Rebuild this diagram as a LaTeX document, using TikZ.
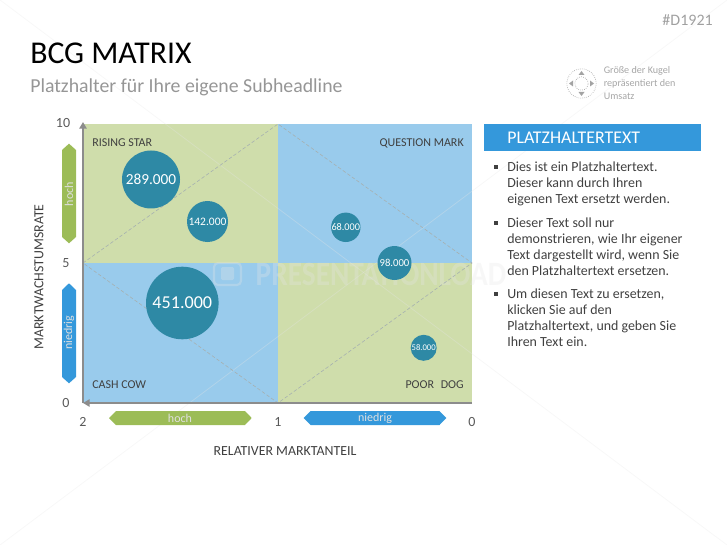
\documentclass[tikz,border=0pt]{standalone}
\usepackage{fontspec}
\setmainfont{Carlito}
\usetikzlibrary{arrows.meta}
\definecolor{qgreen}{HTML}{CFDDAB}
\definecolor{qblue}{HTML}{99CBEC}
\definecolor{bubblec}{HTML}{2E89A5}
\definecolor{agreen}{HTML}{9CBC57}
\definecolor{ablue}{HTML}{3498DB}
\definecolor{axisc}{HTML}{8C8C8C}
\definecolor{diagc}{HTML}{A6B0B0}
\definecolor{txtd}{HTML}{404040}
\definecolor{txtm}{HTML}{595959}
\definecolor{txtl}{HTML}{969696}
\definecolor{faint}{HTML}{E6E6E6}
\newcommand{\fsz}[1]{\fontsize{#1}{#1}\selectfont}
\tikzset{
  bubble/.style={circle,fill=bubblec,inner sep=0pt,text=white,minimum size=#1*0.75pt},
  tick/.style={text=txtm,inner sep=0pt,font=\fsz{10.5}},
  quadlabel/.style={text=txtd,inner sep=0pt,font=\fsz{9}},
  axislabel/.style={text=txtd,inner sep=0pt,font=\fsz{10.4}},
  arrowlabel/.style={text=white!88!black,inner sep=0pt,font=\fsz{9}},
  bodytext/.style={text=txtd,inner sep=0pt,anchor=north west,align=left,font=\fontsize{10.45}{12}\selectfont},
  bulletbox/.style={fill=txtd,inner sep=0pt,minimum size=3pt},
  faintline/.style={draw=faint,line width=0.6pt,opacity=.3},
  diag/.style={draw=diagc,line width=0.45pt,dash pattern=on 2.6pt off 1.6pt},
  axisline/.style={draw=axisc,line width=1.2pt,-{Triangle[length=5pt,width=5.5pt]}}
}
\begin{document}
\begin{tikzpicture}[x=0.75pt,y=-0.75pt]
\useasboundingbox (0,0) rectangle (727,545);
% quadrants
\fill[qgreen] (83,124) rectangle (278,263);
\fill[qblue] (278,124) rectangle (472,263);
\fill[qblue] (83,263) rectangle (278,403);
\fill[qgreen] (278,263) rectangle (472,403);
% watermark
\coordinate (c1) at (0,0);
\coordinate (c2) at (727,545);
\coordinate (c3) at (727,0);
\coordinate (c4) at (0,545);
\draw[faintline] (c1) -- (c2);
\draw[faintline] (c3) -- (c4);
\node[inner sep=0pt,text=faint,opacity=.3,xscale=.86,font=\bfseries\fsz{25.6}] (wm) at (381,274) {PRESENTATIONLOAD};
\draw[faint,opacity=.3,line width=1.6pt,rounded corners=3pt] (214,263) rectangle (241,285);
\fill[faint,opacity=.3,rounded corners=1pt] (221,267) rectangle (234,280);
% diagonals
\coordinate (dl) at (83,263);
\coordinate (dt) at (278,124);
\coordinate (dr) at (472,263);
\coordinate (db) at (278,403);
\draw[diag] (dl) -- (dt) -- (dr) -- (db) -- cycle;
% axes
\coordinate (origin) at (83,403);
\coordinate (ytop) at (83,122);
\coordinate (xend) at (472,403);
\draw[axisline] (origin) -- (ytop);
\draw[axisline] (xend) -- (origin);
% ticks
\node[tick] (y10) at (63,123) {10};
\node[tick] (y5) at (66,263) {5};
\node[tick] (y0) at (66,403) {0};
\node[tick] (x2) at (83,422) {2};
\node[tick] (x1) at (278,422) {1};
\node[tick] (x0) at (472,422) {0};
% quadrant labels
\node[quadlabel,anchor=west] (rs) at (92,143) {RISING STAR};
\node[quadlabel,anchor=east] (qm) at (464,143) {QUESTION MARK};
\node[quadlabel,anchor=west] (cc) at (92,385) {CASH COW};
\node[quadlabel,anchor=east] (pd) at (464,385) {POOR\hspace{3pt} DOG};
% axis titles
\node[axislabel,rotate=90] (ytitle) at (39,277) {MARKTWACHSTUMSRATE};
\node[axislabel] (xtitle) at (285,451) {RELATIVER MARKTANTEIL};
% arrows
\fill[agreen] (69,143.7) -- (76,150) -- (76,237) -- (69,243.3) -- (62,237) -- (62,150) -- cycle;
\node[arrowlabel,rotate=90] (ahoch) at (69,194) {hoch};
\fill[ablue] (69,283.3) -- (76,290) -- (76,377) -- (69,383.3) -- (62,377) -- (62,290) -- cycle;
\node[arrowlabel,rotate=90] (aniedrig) at (69,333) {niedrig};
\fill[agreen] (109,418) -- (116,411) -- (245,411) -- (251.7,418) -- (245,425) -- (116,425) -- cycle;
\node[arrowlabel] (bhoch) at (180,418) {hoch};
\fill[ablue] (303.7,418) -- (310.5,411) -- (439.5,411) -- (446.3,418) -- (439.5,425) -- (310.5,425) -- cycle;
\node[arrowlabel] (bniedrig) at (375,418) {niedrig};
% bubbles
\node[bubble=58,font=\fsz{11.5}] (b289) at (151,179.5) {289.000};
\node[bubble=41,font=\fsz{8.6}] (b142) at (207.5,221.5) {142.000};
\node[bubble=72.6,font=\fsz{13.6}] (b451) at (182.3,303) {451.000};
\node[bubble=28.6,font=\fsz{7.7}] (b68) at (345.8,227.3) {68.000};
\node[bubble=34,font=\fsz{8}] (b98) at (394.5,263) {98.000};
\node[bubble=26,font=\fsz{6.5}] (b58) at (423.7,347.8) {58.000};
% title block
\node[inner sep=0pt,anchor=west,text=black,font=\fsz{23.8}] (title) at (30,53) {BCG MATRIX};
\node[inner sep=0pt,anchor=west,text=txtl,font=\fsz{14.85}] (sub) at (30,87) {Platzhalter für Ihre eigene Subheadline};
\node[inner sep=0pt,anchor=east,text=txtl!90,font=\fsz{12}] (code) at (713,20) {\#D1921};
% legend icon
\coordinate (ic) at (581.5,83.5);
\draw[axisc!80,line width=0.5pt,densely dotted] (ic) circle[radius=11pt];
\draw[axisc!80,line width=0.5pt,densely dotted] (ic) circle[radius=5pt];
\fill[axisc!80] (581.5,71) -- (578.5,75) -- (584.5,75) -- cycle;
\fill[axisc!80] (581.5,96) -- (578.5,92) -- (584.5,92) -- cycle;
\fill[axisc!80] (569,83.5) -- (573,80.5) -- (573,86.5) -- cycle;
\fill[axisc!80] (594,83.5) -- (590,80.5) -- (590,86.5) -- cycle;
\node[inner sep=0pt,anchor=north west,align=left,text=txtl!85,font=\fontsize{7.6}{9.6}\selectfont] (legend) at (603.5,66.5) {Größe der Kugel\\repräsentiert den\\Umsatz};
% right panel
\node[fill=ablue,minimum width=217*0.75pt,minimum height=27*0.75pt,inner sep=0pt,anchor=north west] (hdr) at (484,124) {};
\node[inner sep=0pt,anchor=west,text=white,font=\fsz{13.4}] (hdrt) at (507,138) {PLATZHALTERTEXT};
\node[bulletbox] (b1) at (495.5,167) {};
\node[bodytext] (t1) at (507,162) {Dies ist ein Platzhaltertext.\\Dieser kann durch Ihren\\eigenen Text ersetzt werden.};
\node[bulletbox] (b2) at (495.5,222.5) {};
\node[bodytext] (t2) at (507,218) {Dieser Text soll nur\\demonstrieren, wie Ihr eigener\\Text dargestellt wird, wenn Sie\\den Platzhaltertext ersetzen.};
\node[bulletbox] (b3) at (495.5,293.5) {};
\node[bodytext] (t3) at (507,289) {Um diesen Text zu ersetzen,\\klicken Sie auf den\\Platzhaltertext, und geben Sie\\Ihren Text ein.};
\end{tikzpicture}
\end{document}
